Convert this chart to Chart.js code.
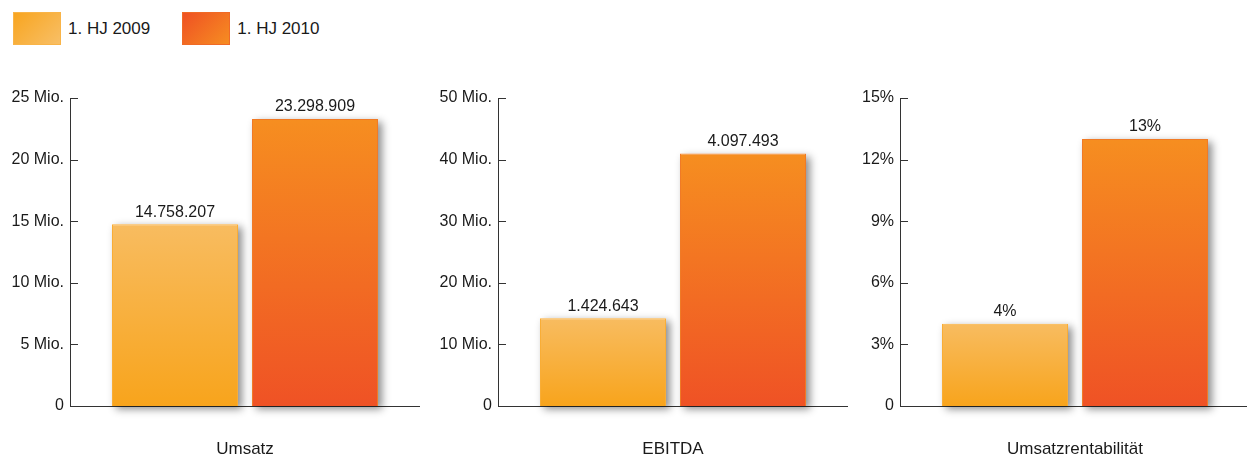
<!DOCTYPE html>
<html>
<head>
<meta charset="utf-8">
<script src="https://cdn.jsdelivr.net/npm/chart.js@4"></script>
<style>
  body { margin: 0; width: 1247px; height: 459px; overflow: hidden; background: #fff; font-family: "Liberation Sans", Arial, sans-serif; }
  .box { position: absolute; top: 0; width: 420px; height: 459px; }
  .legend { position: absolute; top: 12px; left: 13px; display: flex; align-items: center; }
  .item { display: flex; align-items: center; margin-right: 32px; font-size: 17px; color: #1a1a1a; }
  .swatch { width: 48px; height: 33px; margin-right: 7px; box-sizing: border-box; }
  .s09 { background: linear-gradient(135deg, #f8a520, #f8bf66); border: 1px solid #f9b448; }
  .s10 { background: linear-gradient(135deg, #ef5123, #f68d22); border: 1px solid #f06a26; }
</style>
</head>
<body>
<div class="legend">
  <div class="item"><div class="swatch s09"></div><span>1. HJ 2009</span></div>
  <div class="item"><div class="swatch s10"></div><span>1. HJ 2010</span></div>
</div>
<div class="box" style="left:0px"><canvas id="c1"></canvas></div>
<div class="box" style="left:428px"><canvas id="c2"></canvas></div>
<div class="box" style="left:830px"><canvas id="c3"></canvas></div>
<script>
const serien = ["1. HJ 2009", "1. HJ 2010"];
const umsatz = [14758207, 23298909];
const ebitda = [1424643, 4097493];
const rendite = [4, 13];
const umsatzTicks = ["0", "5 Mio.", "10 Mio.", "15 Mio.", "20 Mio.", "25 Mio."];
const ebitdaTicks = ["0", "10 Mio.", "20 Mio.", "30 Mio.", "40 Mio.", "50 Mio."];
const renditeTicks = ["0", "3%", "6%", "9%", "12%", "15%"];

const farben = [
  { oben: "#f8bc60", unten: "#f8a41c", rand: "#f9ad36" },
  { oben: "#f68e20", unten: "#ef5225", rand: "#f07a26" }
];
const schrift = "'Liberation Sans', Arial, sans-serif";

function verlauf(ctx) {
  const chart = ctx.chart;
  const f = farben[ctx.datasetIndex];
  const y = chart.scales.y;
  if (!chart.chartArea || !y || ctx.parsed == null) return f.unten;
  const oben = y.getPixelForValue(ctx.parsed.y);
  const unten = y.getPixelForValue(0);
  const g = chart.ctx.createLinearGradient(0, oben, 0, unten);
  g.addColorStop(0, f.oben);
  g.addColorStop(1, f.unten);
  return g;
}

// grauer Schatten hinter den Balken
const schatten = {
  id: "schatten",
  beforeDatasetsDraw(chart) {
    const c = chart.ctx;
    c.save();
    c.fillStyle = "#fff";
    c.shadowColor = "rgba(0,0,0,0.45)";
    c.shadowBlur = 8;
    c.shadowOffsetX = 4;
    c.shadowOffsetY = 3;
    chart.data.datasets.forEach((ds, i) => {
      chart.getDatasetMeta(i).data.forEach(bar => {
        const p = bar.getProps(["x", "y", "base", "width"], true);
        c.fillRect(p.x - p.width / 2, p.y, p.width, p.base - p.y);
      });
    });
    c.restore();
  }
};

const striche = {
  id: "striche",
  afterDraw(chart) {
    const c = chart.ctx;
    const y = chart.scales.y;
    c.save();
    c.strokeStyle = "#333";
    c.lineWidth = 1;
    y.ticks.forEach(t => {
      const py = Math.round(y.getPixelForValue(t.value)) + 0.5;
      c.beginPath();
      c.moveTo(y.right, py);
      c.lineTo(y.right + 8, py);
      c.stroke();
    });
    c.restore();
  }
};

const werte = {
  id: "werte",
  afterDatasetsDraw(chart, args, opts) {
    const c = chart.ctx;
    c.save();
    c.font = "16px " + schrift;
    c.fillStyle = "#1a1a1a";
    c.textAlign = "center";
    c.textBaseline = "bottom";
    chart.data.datasets.forEach((ds, i) => {
      chart.getDatasetMeta(i).data.forEach((bar, j) => {
        c.fillText(opts.format(ds.data[j]), bar.x, bar.y - 4);
      });
    });
    c.restore();
  }
};

function zeichne(id, titel, daten, max, ticks, format) {
  new Chart(document.getElementById(id), {
    type: "bar",
    data: {
      labels: [titel],
      datasets: serien.map((s, i) => ({
        label: s,
        data: [daten[i]],
        backgroundColor: verlauf,
        borderColor: farben[i].rand,
        borderWidth: 1,
        borderSkipped: "bottom"
      }))
    },
    options: {
      responsive: true,
      maintainAspectRatio: false,
      animation: false,
      layout: { padding: { top: 98, right: 0, left: 0, bottom: 0 } },
      plugins: {
        legend: { display: false },
        tooltip: { enabled: false },
        werte: { format: format }
      },
      scales: {
        x: {
          grid: { display: false, drawTicks: false },
          border: { display: true, color: "#333", width: 1 },
          ticks: { color: "#1a1a1a", font: { family: schrift, size: 17 }, padding: 33 },
          afterFit(s) { s.height = 53; }
        },
        y: {
          min: 0,
          max: max,
          grid: { display: false, drawTicks: false },
          border: { display: true, color: "#333", width: 1 },
          ticks: {
            stepSize: max / 5,
            color: "#1a1a1a",
            font: { family: schrift, size: 16 },
            padding: 6,
            callback: (v, i) => ticks[i]
          },
          afterFit(s) { s.width = 70; }
        }
      }
    },
    plugins: [schatten, werte, striche]
  });
}

const punkt = v => v.toLocaleString("de-DE");
zeichne("c1", "Umsatz", umsatz, 25000000, umsatzTicks, punkt);
zeichne("c2", "EBITDA", ebitda, 5000000, ebitdaTicks, punkt);
zeichne("c3", "Umsatzrentabilität", rendite, 15, renditeTicks, v => v + "%");
</script>
</body>
</html>
